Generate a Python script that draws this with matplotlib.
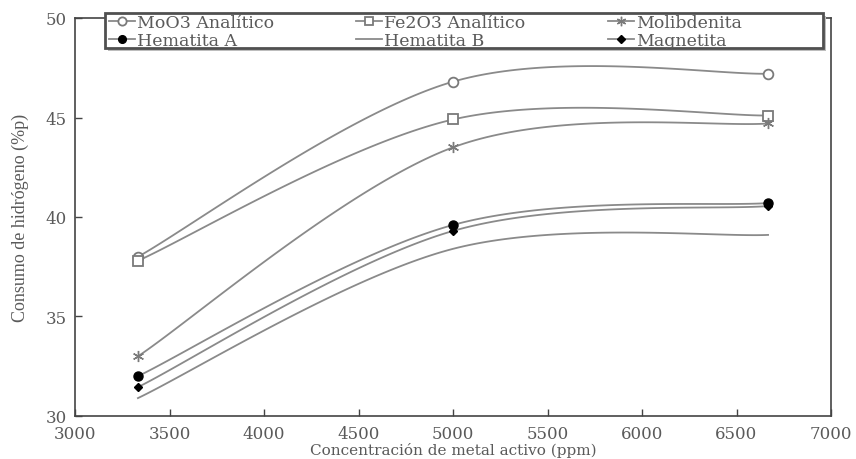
import numpy as np
import matplotlib
matplotlib.use("Agg")
import matplotlib.pyplot as plt
from matplotlib.patches import Rectangle

# Concentration of active metal (ppm)
concentracion = [3333, 5000, 6667]

# Hydrogen consumption (%p) per series
moo3_analitico = [38.0, 46.8, 47.2]
fe2o3_analitico = [37.8, 44.9, 45.1]
molibdenita = [33.0, 43.5, 44.7]
hematita_a = [32.0, 39.6, 40.7]
hematita_b = [30.9, 38.4, 39.1]
magnetita = [31.45, 39.3, 40.55]

x_ticks = [3000, 3500, 4000, 4500, 5000, 5500, 6000, 6500, 7000]
y_ticks = [30, 35, 40, 45, 50]


def smooth_curve(x, y, n=60):
    """Cardinal (Catmull-Rom style) Bezier smoothing through the points."""
    x = np.asarray(x, float)
    y = np.asarray(y, float)
    px = np.concatenate([[x[0]], x, [x[-1]]])
    py = np.concatenate([[y[0]], y, [y[-1]]])
    xs, ys = [], []
    t = np.linspace(0, 1, n)
    for i in range(len(x) - 1):
        p0 = np.array([px[i + 1], py[i + 1]])
        p3 = np.array([px[i + 2], py[i + 2]])
        c1 = p0 + (np.array([px[i + 2], py[i + 2]]) - np.array([px[i], py[i]])) / 6
        c2 = p3 - (np.array([px[i + 3], py[i + 3]]) - np.array([px[i + 1], py[i + 1]])) / 6
        b = ((1 - t) ** 3)[:, None] * p0 + (3 * (1 - t) ** 2 * t)[:, None] * c1 \
            + (3 * (1 - t) * t ** 2)[:, None] * c2 + (t ** 3)[:, None] * p3
        xs.append(b[:, 0])
        ys.append(b[:, 1])
    return np.concatenate(xs), np.concatenate(ys)


plt.rcParams['font.family'] = ['DejaVu Serif']

W, H = 856, 460
fig = plt.figure(figsize=(W / 100, H / 100), dpi=100)
ax = fig.add_axes([75 / W, 1 - 417 / H, (831 - 75) / W, (417 - 19) / H])

line_color = '#8a8a8a'
text_color = '#5a5a5a'

series = [
    ("MoO3 Analítico", moo3_analitico, dict(marker='o', ms=7, mfc='white', mec='#7a7a7a', mew=1.3)),
    ("Fe2O3 Analítico", fe2o3_analitico, dict(marker='s', ms=7, mfc='white', mec='#7a7a7a', mew=1.3)),
    ("Molibdenita", molibdenita, dict(marker=(6, 2, 0), ms=8, mec='#7a7a7a', mew=1.0)),
    ("Hematita A", hematita_a, dict(marker='o', ms=6.5, mfc='black', mec='black')),
    ("Hematita B", hematita_b, dict(marker=None)),
    ("Magnetita", magnetita, dict(marker='D', ms=4.5, mfc='black', mec='black')),
]

handles = {}
for label, vals, mstyle in series:
    sx, sy = smooth_curve(concentracion, vals)
    ax.plot(sx, sy, color=line_color, lw=1.3, zorder=2)
    if mstyle.get('marker') is not None:
        ax.plot(concentracion, vals, linestyle='none', zorder=3, **mstyle)
    leg_style = dict(mstyle)
    if 'ms' in leg_style:
        leg_style['ms'] = leg_style['ms'] * 0.85
    h, = ax.plot([], [], color=line_color, lw=1.3, label=label, **leg_style)
    handles[label] = h

ax.set_xlim(3000, 7000)
ax.set_ylim(30, 50)
ax.set_xticks(x_ticks)
ax.set_yticks(y_ticks)
ax.tick_params(direction='in', length=5, width=1, colors='#444444',
               labelcolor=text_color, labelsize=12)
ax.tick_params(axis='x', pad=6.5)
ax.tick_params(axis='y', pad=6)
for sp in ax.spines.values():
    sp.set_color('#444444')
    sp.set_linewidth(1.2)

ax.set_xlabel("Concentración de metal activo (ppm)", color=text_color,
              fontsize=11, labelpad=0)
ax.set_ylabel("Consumo de hidrógeno (%p)", color=text_color,
              fontsize=13, family='Liberation Serif', labelpad=12)

# legend box with a soft shadow, drawn in figure pixels
x0, y0, x1, y1 = 105, 14, 823, 49
shadow = Rectangle(((x0 + 3) / W, 1 - (y1 + 3) / H), (x1 - x0) / W, (y1 - y0) / H,
                   transform=fig.transFigure, facecolor='#bdbdbd', edgecolor='none',
                   zorder=4)
box = Rectangle((x0 / W, 1 - y1 / H), (x1 - x0) / W, (y1 - y0) / H,
                transform=fig.transFigure, facecolor='white', edgecolor='#505050',
                linewidth=2.0, zorder=4.5)
fig.patches.extend([shadow, box])

# legend laid out row by row: matplotlib fills columns first
order = ["MoO3 Analítico", "Hematita A", "Fe2O3 Analítico",
         "Hematita B", "Molibdenita", "Magnetita"]
leg = fig.legend(handles=[handles[k] for k in order], ncol=3,
                 bbox_to_anchor=((x0 + 4) / W, 1 - (y0 + 1) / H),
                 loc='upper left', fontsize=12.5, frameon=False,
                 handlelength=1.5, handletextpad=0.1, borderpad=0.0,
                 labelspacing=0.05, columnspacing=4.75, borderaxespad=0)
for t in leg.get_texts():
    t.set_color(text_color)
leg.set_zorder(5)

fig.savefig("out.png", dpi=100)
